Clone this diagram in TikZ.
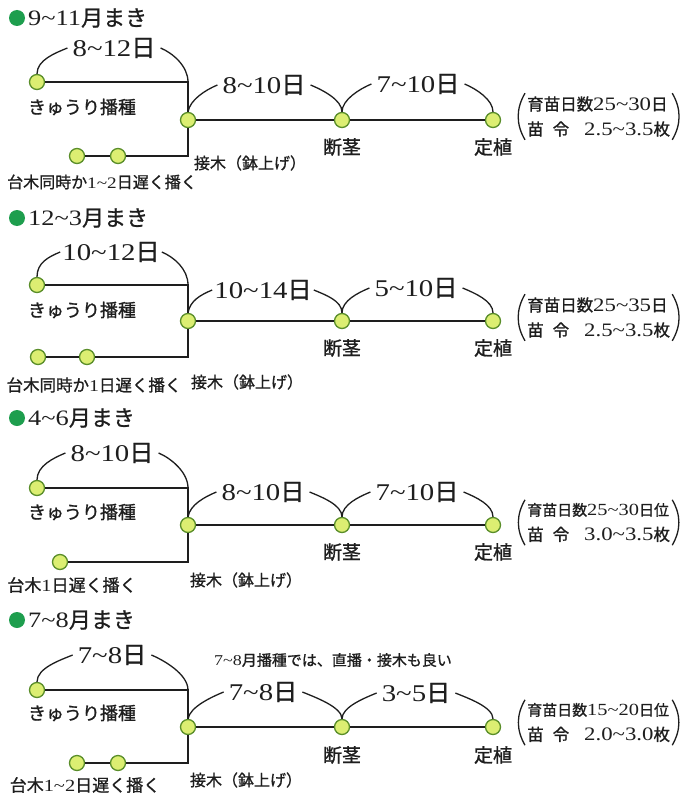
\documentclass[tikz,border=0pt]{standalone}
\usepackage{fontspec}
\setmainfont[FakeStretch=1.2]{Liberation Serif}
\newfontfamily\jpf[FakeBold=1]{Noto Sans CJK JP}
\newcommand\jj[1]{{\jpf #1}}
\newcommand\wv{\textasciitilde}
\newcommand\fsz[1]{\fontsize{#1}{#1}\selectfont}
\newcommand\nbr[1]{\fontsize{#1}{25}\selectfont}
\definecolor{dotfill}{HTML}{DCEE72}
\definecolor{dotline}{HTML}{5A8E2A}
\definecolor{bulgreen}{HTML}{1E9E4E}
\definecolor{ink}{HTML}{1E1E1E}
\begin{document}
\begin{tikzpicture}[x=1pt,y=-1pt,
  seedling/.style={circle,draw=dotline,fill=dotfill,line width=1.3pt,minimum size=15pt,inner sep=0pt},
  bul/.style={circle,fill=bulgreen,minimum size=16pt,inner sep=0pt},
  trunk/.style={line width=2.6pt,draw=ink},
  curl/.style={line width=1.3pt,draw=ink},
  dayl/.style={font=\fsz{24},inner sep=5pt,text=ink},
  hdr/.style={font=\fsz{22},anchor=west,inner sep=0pt,text=ink},
  lbl/.style={inner sep=0pt,text=ink},
  notes/.style={anchor=west,align=left,inner sep=0pt,font=\nbr{16.5},text=ink},
  lpar/.style={curl,bend right=30},
  rpar/.style={curl,bend left=30},
]
\fill[white] (0,0) rectangle (684,800);
\useasboundingbox (0,0) rectangle (684,800);

% ---------- Section 1 ----------
\begin{scope}[shift={(0,0)}]
\node[bul] (g1) at (17,18) {};
\node[hdr] (h1) at (28,18) {9\wv 11\jj{月まき}};
\node[seedling] (s1) at (37,82) {};
\node[seedling] (j1) at (188,120) {};
\node[seedling] (d1) at (342,120) {};
\node[seedling] (t1) at (493,120) {};
\node[seedling] (a1) at (77,156) {};
\node[seedling] (b1) at (118,156) {};
\coordinate (k1) at (188,82);
\coordinate (c1) at (188,156);
\node[dayl] (L1a) at (114,48) {8\wv 12\jj{日}};
\node[dayl] (L2a) at (264,85) {8\wv 10\jj{日}};
\node[dayl] (L3a) at (418,84) {7\wv 10\jj{日}};
\node[lbl,font=\fsz{18}] (e1) at (82,107) {\jj{きゅうり播種}};
\node[lbl,font=\fsz{16}] (f1) at (102,182) {\jj{台木同時か}1\wv 2\jj{日遅く播く}};
\node[lbl,font=\fsz{16}] (m1) at (250,163) {\jj{接木（鉢上げ）}};
\node[lbl,font=\fsz{19}] (n1) at (342,147) {\jj{断茎}};
\node[lbl,font=\fsz{19}] (o1) at (493,147) {\jj{定植}};
\node[notes] (p1) at (527,116.5) {\jj{育苗日数}{\nbr{19}25\wv 30}\jj{日}\\\jj{苗}\hspace{9pt}\jj{令}\hspace{15pt}{\nbr{19}2.5\wv 3.5}\jj{枚}};
\draw[trunk] (s1) -- (k1) -- (j1);
\draw[trunk] (j1) -- (c1) -- (b1);
\draw[trunk] (b1) -- (a1);
\draw[trunk] (j1) -- (d1);
\draw[trunk] (d1) -- (t1);
\draw[curl] (s1.north) .. controls +(0,-14) and +(-12,5) .. (L1a.west);
\draw[curl] (L1a.east) .. controls +(12,5) and +(0,-16) .. (k1);
\draw[curl] (j1.north) .. controls +(2,-12) and +(-12,5) .. (L2a.west);
\draw[curl] (L2a.east) .. controls +(12,5) and +(0,-12) .. (d1.north);
\draw[curl] (d1.north) .. controls +(0,-12) and +(-12,5) .. (L3a.west);
\draw[curl] (L3a.east) .. controls +(12,5) and +(0,-12) .. (t1.north);
\draw[lpar] ([xshift=-2pt,yshift=3pt]p1.north west) to ([xshift=-2pt,yshift=-3pt]p1.south west);
\draw[rpar] ([xshift=2pt,yshift=3pt]p1.north east) to ([xshift=2pt,yshift=-3pt]p1.south east);
\end{scope}

% ---------- Section 2 ----------
\begin{scope}[shift={(0,201)}]
\node[bul] (g2) at (17,17) {};
\node[hdr] (h2) at (28,17) {12\wv 3\jj{月まき}};
\node[seedling] (s2) at (37,84) {};
\node[seedling] (j2) at (188,120) {};
\node[seedling] (d2) at (342,120) {};
\node[seedling] (t2) at (493,120) {};
\node[seedling] (a2) at (38,156) {};
\node[seedling] (b2) at (87,156) {};
\coordinate (k2) at (188,84);
\coordinate (c2) at (188,156);
\node[dayl,inner sep=2pt] (L1b) at (111,51) {10\wv 12\jj{日}};
\node[dayl,inner sep=2pt] (L2b) at (263,89) {10\wv 14\jj{日}};
\node[dayl] (L3b) at (416,87) {5\wv 10\jj{日}};
\node[lbl,font=\fsz{18}] (e2) at (82,109) {\jj{きゅうり播種}};
\node[lbl,font=\fsz{16.5}] (f2) at (94,184) {\jj{台木同時か}1\jj{日遅く播く}};
\node[lbl,font=\fsz{16}] (m2) at (247,181) {\jj{接木（鉢上げ）}};
\node[lbl,font=\fsz{19}] (n2) at (342,147) {\jj{断茎}};
\node[lbl,font=\fsz{19}] (o2) at (493,147) {\jj{定植}};
\node[notes] (p2) at (527,116.5) {\jj{育苗日数}{\nbr{19}25\wv 35}\jj{日}\\\jj{苗}\hspace{9pt}\jj{令}\hspace{15pt}{\nbr{19}2.5\wv 3.5}\jj{枚}};
\draw[trunk] (s2) -- (k2) -- (j2);
\draw[trunk] (j2) -- (c2) -- (b2);
\draw[trunk] (b2) -- (a2);
\draw[trunk] (j2) -- (d2);
\draw[trunk] (d2) -- (t2);
\draw[curl] (s2.north) .. controls +(0,-14) and +(-12,5) .. (L1b.west);
\draw[curl] (L1b.east) .. controls +(12,5) and +(0,-16) .. (k2);
\draw[curl] (j2.north) .. controls +(2,-12) and +(-12,5) .. (L2b.west);
\draw[curl] (L2b.east) .. controls +(12,5) and +(0,-12) .. (d2.north);
\draw[curl] (d2.north) .. controls +(0,-12) and +(-12,5) .. (L3b.west);
\draw[curl] (L3b.east) .. controls +(12,5) and +(0,-12) .. (t2.north);
\draw[lpar] ([xshift=-2pt,yshift=3pt]p2.north west) to ([xshift=-2pt,yshift=-3pt]p2.south west);
\draw[rpar] ([xshift=2pt,yshift=3pt]p2.north east) to ([xshift=2pt,yshift=-3pt]p2.south east);
\end{scope}

% ---------- Section 3 ----------
\begin{scope}[shift={(0,405)}]
\node[bul] (g3) at (17,13) {};
\node[hdr] (h3) at (28,13) {4\wv 6\jj{月まき}};
\node[seedling] (s3) at (37,83) {};
\node[seedling] (j3) at (188,120) {};
\node[seedling] (d3) at (342,120) {};
\node[seedling] (t3) at (493,120) {};
\node[seedling] (a3) at (60,157) {};
\coordinate (k3) at (188,83);
\coordinate (c3) at (188,157);
\node[dayl] (L1c) at (112,48) {8\wv 10\jj{日}};
\node[dayl] (L2c) at (263,87) {8\wv 10\jj{日}};
\node[dayl] (L3c) at (417,87) {7\wv 10\jj{日}};
\node[lbl,font=\fsz{18}] (e3) at (82,107) {\jj{きゅうり播種}};
\node[lbl,font=\fsz{17}] (f3) at (72,180) {\jj{台木}1\jj{日遅く播く}};
\node[lbl,font=\fsz{16}] (m3) at (246,175) {\jj{接木（鉢上げ）}};
\node[lbl,font=\fsz{19}] (n3) at (342,147) {\jj{断茎}};
\node[lbl,font=\fsz{19}] (o3) at (493,147) {\jj{定植}};
\node[notes] (p3) at (527,117.5) {{\nbr{15}\jj{育苗日数}{\nbr{17}25\wv 30}\jj{日位}}\\\jj{苗}\hspace{9pt}\jj{令}\hspace{15pt}{\nbr{19}3.0\wv 3.5}\jj{枚}};
\draw[trunk] (s3) -- (k3) -- (j3);
\draw[trunk] (j3) -- (c3) -- (a3);
\draw[trunk] (j3) -- (d3);
\draw[trunk] (d3) -- (t3);
\draw[curl] (s3.north) .. controls +(0,-14) and +(-12,5) .. (L1c.west);
\draw[curl] (L1c.east) .. controls +(12,5) and +(0,-16) .. (k3);
\draw[curl] (j3.north) .. controls +(2,-12) and +(-12,5) .. (L2c.west);
\draw[curl] (L2c.east) .. controls +(12,5) and +(0,-12) .. (d3.north);
\draw[curl] (d3.north) .. controls +(0,-12) and +(-12,5) .. (L3c.west);
\draw[curl] (L3c.east) .. controls +(12,5) and +(0,-12) .. (t3.north);
\draw[lpar] ([xshift=-2pt,yshift=3pt]p3.north west) to ([xshift=-2pt,yshift=-3pt]p3.south west);
\draw[rpar] ([xshift=2pt,yshift=3pt]p3.north east) to ([xshift=2pt,yshift=-3pt]p3.south east);
\end{scope}

% ---------- Section 4 ----------
\begin{scope}[shift={(0,607)}]
\node[bul] (g4) at (17,13) {};
\node[hdr] (h4) at (28,13) {7\wv 8\jj{月まき}};
\node[seedling] (s4) at (37,83) {};
\node[seedling] (j4) at (188,120) {};
\node[seedling] (d4) at (342,120) {};
\node[seedling] (t4) at (493,120) {};
\node[seedling] (a4) at (77,156) {};
\node[seedling] (b4) at (118,156) {};
\coordinate (k4) at (188,83);
\coordinate (c4) at (188,156);
\node[dayl] (L1d) at (112,48) {7\wv 8\jj{日}};
\node[dayl] (L2d) at (263,85) {7\wv 8\jj{日}};
\node[dayl] (L3d) at (416,86) {3\wv 5\jj{日}};
\node[lbl,font=\fsz{15}] (q4) at (333,53) {7\wv 8\jj{月播種では、直播・接木も良い}};
\node[lbl,font=\fsz{18}] (e4) at (82,106) {\jj{きゅうり播種}};
\node[lbl,font=\fsz{17}] (f4) at (85,178) {\jj{台木}1\wv 2\jj{日遅く播く}};
\node[lbl,font=\fsz{16}] (m4) at (246,173) {\jj{接木（鉢上げ）}};
\node[lbl,font=\fsz{19}] (n4) at (342,148) {\jj{断茎}};
\node[lbl,font=\fsz{19}] (o4) at (493,148) {\jj{定植}};
\node[notes] (p4) at (527,115.5) {{\nbr{15}\jj{育苗日数}{\nbr{17}15\wv 20}\jj{日位}}\\\jj{苗}\hspace{9pt}\jj{令}\hspace{15pt}{\nbr{19}2.0\wv 3.0}\jj{枚}};
\draw[trunk] (s4) -- (k4) -- (j4);
\draw[trunk] (j4) -- (c4) -- (b4);
\draw[trunk] (b4) -- (a4);
\draw[trunk] (j4) -- (d4);
\draw[trunk] (d4) -- (t4);
\draw[curl] (s4.north) .. controls +(0,-14) and +(-12,5) .. (L1d.west);
\draw[curl] (L1d.east) .. controls +(12,5) and +(0,-16) .. (k4);
\draw[curl] (j4.north) .. controls +(2,-12) and +(-12,5) .. (L2d.west);
\draw[curl] (L2d.east) .. controls +(12,5) and +(0,-12) .. (d4.north);
\draw[curl] (d4.north) .. controls +(0,-12) and +(-12,5) .. (L3d.west);
\draw[curl] (L3d.east) .. controls +(12,5) and +(0,-12) .. (t4.north);
\draw[lpar] ([xshift=-2pt,yshift=3pt]p4.north west) to ([xshift=-2pt,yshift=-3pt]p4.south west);
\draw[rpar] ([xshift=2pt,yshift=3pt]p4.north east) to ([xshift=2pt,yshift=-3pt]p4.south east);
\end{scope}
\end{tikzpicture}
\end{document}
